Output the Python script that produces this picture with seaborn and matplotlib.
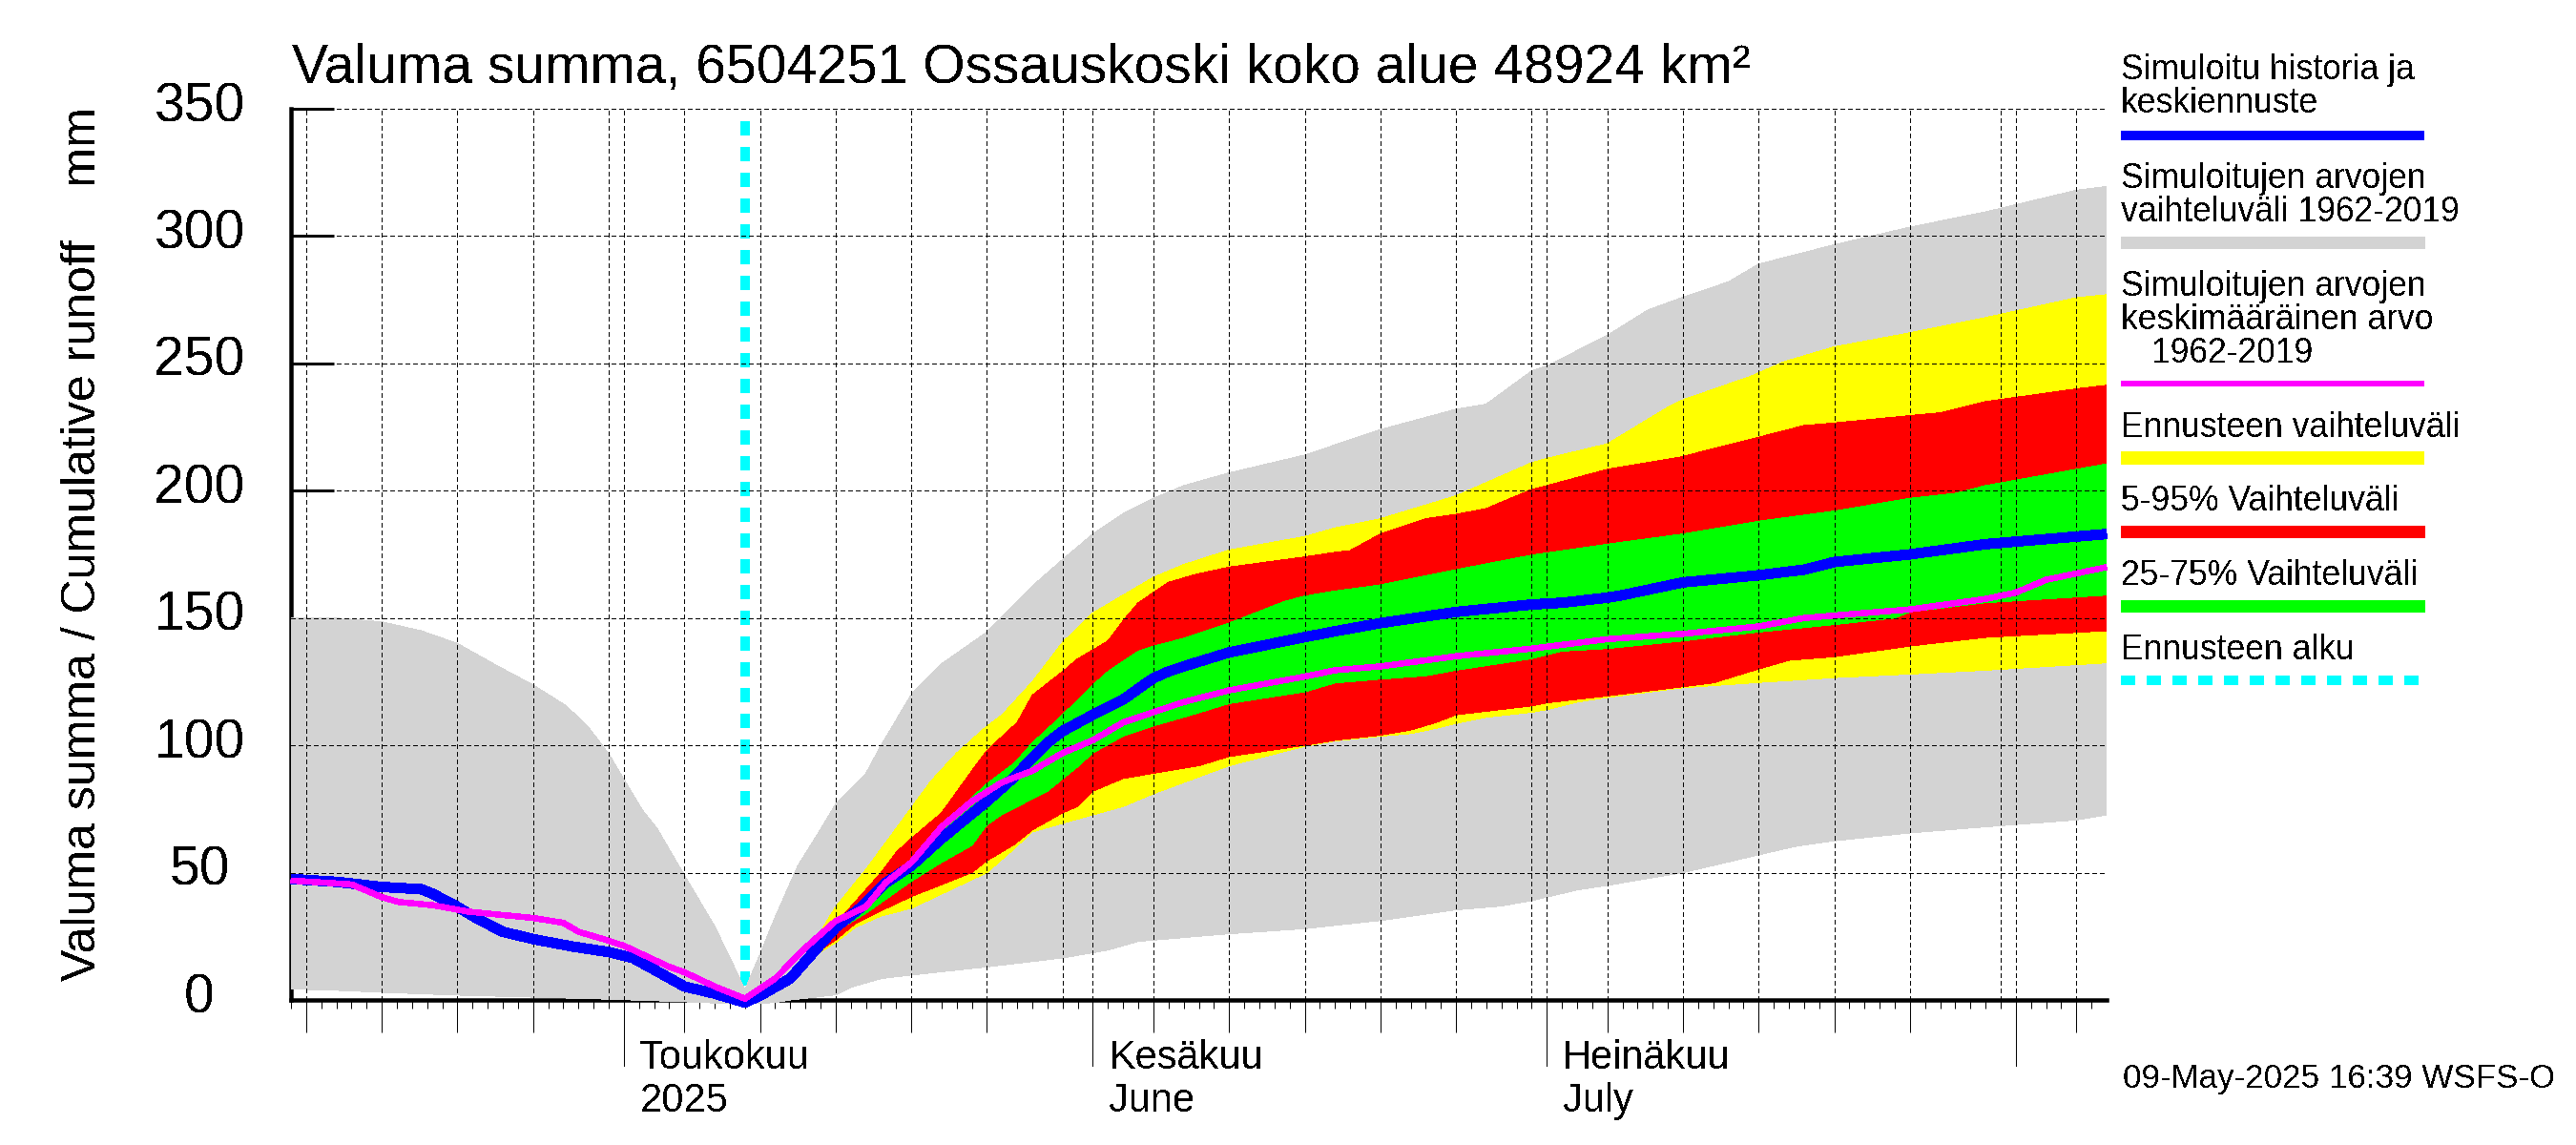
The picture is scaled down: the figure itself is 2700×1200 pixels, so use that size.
import numpy as np
import pandas as pd
import matplotlib
matplotlib.use("Agg")
import matplotlib.pyplot as plt
from matplotlib.lines import Line2D
from matplotlib.transforms import ScaledTranslation, blended_transform_factory
import seaborn as sns

# x values are days counted from 1 May 2025
grey_top_days = [-22, -19, -16, -13.4, -11, -8.6, -6, -3.8, -2.3, -1, 0, 1.2, 2.2, 4, 6, 7.3, 8, 9, 10, 11.5, 13, 14,
                 16, 17, 19, 20, 21, 24, 27, 29, 31, 33, 35, 37, 40, 45, 47, 50, 55, 57, 60, 61, 65, 67.7, 70, 73, 75,
                 80, 85, 90, 96, 98]
grey_top = [150, 150, 148.5, 145, 140, 132, 123.7, 115.5, 106.8, 96.7, 86.7, 74.8, 67.3, 49, 29, 13, 4, 18, 32.6,
            52.7, 67, 77, 89, 100, 120, 126, 132, 144.5, 162.6, 173, 183, 191, 197, 202, 207, 214, 218, 224, 232, 234,
            247, 249, 261, 271, 276, 282, 289, 296.6, 303.5, 309.5, 318, 319.5]
grey_low_days = [-22, -19, -16, -11, -6, -1, 4, 8, 10, 11, 12.5, 14, 15, 17, 19, 24, 29, 32, 34, 40, 45, 47, 50, 55, 58,
                 60, 61, 63, 65, 70, 75, 77.5, 80, 85, 90, 96, 98]
grey_low = [4.3, 3.8, 3, 1.9, 1.1, 0.3, -0.7, -1.7, -1, 0, 1, 2, 5, 8.4, 9.8, 13, 16.5, 19.6, 23, 26, 28, 29.3, 31.2,
            35.4, 36.9, 39, 40.4, 43.2, 45, 50, 57, 60.4, 62.5, 65.6, 68, 70.7, 72.7]

yellow_top_days = [8, 11, 12.7, 14, 16, 18, 19, 20.3, 22, 24, 25, 27, 29, 31, 33, 35, 37, 40, 45, 47, 50, 55, 60, 61,
                   65, 66, 69, 70, 74.5, 76.7, 80, 85, 90, 96, 98]
yellow_top = [0, 8, 24, 36.6, 51.3, 67.4, 75.5, 86, 97, 107.6, 112, 125, 140.5, 152, 159, 166, 171, 176.7, 182, 185.4,
              189, 198, 211, 212.7, 218.4, 222, 232.8, 235.7, 245, 250.7, 256.5, 262, 268, 275.8, 277]
yellow_low_days = [8, 11, 12.5, 14, 15.3, 17, 19, 24, 25.8, 27, 29, 33, 35, 40, 45, 47, 50, 52, 53.7, 55, 57, 60, 61,
                   63, 65, 70, 75, 80, 85, 90, 98]
yellow_low = [0, 8, 17, 22.5, 28.5, 33, 36, 50, 59.4, 66, 69.4, 76, 81, 92, 99.6, 101.7, 103.6, 104.6, 106.7, 108.6,
              111, 113, 114, 117, 118.8, 122.6, 124.7, 126.6, 128, 129.5, 132.4]

red_top_days = [8, 11, 12.5, 13.6, 14, 17, 18, 19, 21, 23, 24, 26, 27, 29, 30, 32, 33, 34, 36, 37.7, 40, 45, 47, 48, 50,
                53, 55, 57, 60, 61, 65, 70, 71, 75, 78, 80, 85, 87, 90, 96, 98]
red_top = [0, 8, 19, 27, 30, 50, 58, 63.4, 73.5, 90, 98, 109, 119.7, 129, 134, 141, 149, 156, 164, 167, 170, 174, 175.8,
           176.5, 183, 189, 190.7, 193, 200.5, 202, 208.4, 213.4, 215, 221, 225.6, 226.6, 229.5, 230.6, 235, 240, 241.4]
red_low_days = [8, 11, 12.5, 14, 15.3, 17, 19, 23, 24, 25.8, 27, 29, 30, 31, 33, 35, 38, 40, 45, 47, 50, 52, 53.7, 55,
                60, 61, 65, 70, 72, 75, 77, 80, 85, 90, 98]
red_low = [0, 8, 17.5, 23.5, 30, 35, 40.6, 50, 54.7, 61, 66.8, 73.5, 76, 82, 87, 89, 92, 95.6, 100, 102, 104, 106, 109,
           112, 115.5, 116.7, 119.4, 123, 124.5, 130, 133.4, 134.8, 139, 142.4, 145]

green_top_days = [8, 11, 12.5, 14, 16, 19, 21, 23, 24, 25.8, 27, 29, 31, 32, 34, 35, 37, 40, 43.7, 45, 47, 50, 55, 60,
                  65, 70, 75, 80, 85, 88, 90, 96, 98]
green_top = [0, 8, 18, 29, 38, 54, 67.4, 79.5, 85, 93, 101, 112, 123.7, 129, 137, 139, 142, 148, 156.6, 158.6, 160.6,
             163, 169, 174.7, 179, 183, 188, 192, 197, 199, 202, 208.4, 210.5]
green_low_days = [8, 11, 12.5, 14, 16, 19, 21, 23, 24, 25, 28, 30, 31, 33, 35, 37, 40, 45, 47, 50, 53, 55, 60, 62, 65,
                  70, 75, 80, 84, 85, 90, 98]
green_low = [0, 8, 18, 27, 34, 46.6, 54, 60.7, 68.8, 72.8, 82, 91.6, 97, 103.6, 107.6, 111, 116.4, 121, 124.5, 126,
             127.3, 129.5, 134, 137, 138, 141, 144.5, 147.4, 150, 152.4, 156, 159]

blue_days = [-22, -19, -16, -13.4, -12.6, -11, -9.6, -8, -6, -3.4, -1, 0.6, 4, 6, 8, 9, 11, 12.5, 14, 15.6, 17.3, 19,
             21, 24, 25.8, 27, 28, 29, 31, 33, 35, 36, 37, 40, 45, 47, 50, 55, 60, 62, 65, 66, 70, 75, 78, 80, 85, 90,
             96, 98]
blue_vals = [47.5, 46.4, 44.4, 43.5, 41.6, 36.6, 31.6, 26.8, 23.9, 21, 18.8, 16.5, 5.3, 2.5, -1, 1.7, 8.4, 18.5, 28.5,
             36, 46, 52.7, 63.4, 78, 87.5, 95, 101, 105.6, 112, 118, 126.4, 129, 131, 136.5, 142.5, 144.8, 148, 152.4,
             155.3, 156, 158, 159, 164, 166.8, 169, 172, 175, 179, 182, 183]
magenta_days = [-22, -18, -16, -14.9, -12.6, -10.3, -6, -4, -3, -1.3, 0, 3, 4, 6, 8, 10, 12, 14, 16, 17.3, 19, 21, 23,
                25, 27, 29, 31, 33, 35, 37, 40, 45, 47, 50, 55, 60, 65, 70, 75, 78, 80, 85, 90, 92, 94, 98]
magenta_vals = [46.9, 45.4, 40.4, 38.5, 37.2, 34.7, 32.2, 30.3, 26.8, 23.8, 21.3, 13, 10.9, 5.3, 0.5, 8.4, 20.5, 31,
                36.6, 46, 54, 68, 78, 85.5, 90, 97, 102, 109, 113, 117, 121.6, 127, 129.5, 131, 135, 138, 141.7, 143.8,
                146.7, 150, 151, 153.4, 157.5, 160, 165, 170]

forecast_start = 8
y_ticks = [0, 50, 100, 150, 200, 250, 300, 350]
month_starts = [0, 31, 61, 92]
five_day_ticks = [-21, -16, -11, -6, 4, 9, 14, 19, 24, 35, 40, 45, 50, 55, 65, 70, 75, 80, 85, 96]
thirty_days = [-1, 29, 60, 91]
month_labels = ["Toukokuu\n2025", "Kesäkuu\nJune", "Heinäkuu\nJuly"]

sns.set_theme(style="white")
plt.rcParams["font.family"] = ["Liberation Sans", "DejaVu Sans"]
plt.rcParams["text.antialiased"] = False

W, H = 2700, 1200
DPI = 100
PX = 72 / DPI


def fx(x):
    return x / W


def fy(y):
    return 1 - y / H


fig = plt.figure(figsize=(W / DPI, H / DPI), dpi=DPI, facecolor="white")
ax = fig.add_axes([fx(305), fy(1048), fx(2208) - fx(305), fy(114) - fy(1048)])
ax.set_facecolor("white")
ax.set_xlim(-22, 98)
ax.set_ylim(0, 350)
ax.set_axisbelow(True)

# start of forecast sits under the grey band
ax.plot([forecast_start, forecast_start], [345, 0], color="#00FFFF", lw=10 * PX, linestyle=(0, (1.5, 1.3)),
        dash_capstyle="butt", zorder=1, antialiased=False)


def band(days_top, top, days_low, low, color, z):
    xs = list(days_top) + list(days_low)[::-1]
    ys = list(top) + list(low)[::-1]
    ax.fill(xs, ys, color=color, lw=0, zorder=z, clip_on=False, antialiased=False)


band(grey_top_days, grey_top, grey_low_days, grey_low, "#D3D3D3", 1.2)
band(yellow_top_days, yellow_top, yellow_low_days, yellow_low, "#FFFF00", 1.3)
band(red_top_days, red_top, red_low_days, red_low, "#FF0000", 1.4)
band(green_top_days, green_top, green_low_days, green_low, "#00FF00", 1.5)

# dashed grid goes over the bands
grid_dash = (0, (5, 3))
for y in y_ticks[1:]:
    ax.axhline(y, color="black", lw=PX, linestyle=grid_dash, zorder=1.7, antialiased=False)
for d in sorted(month_starts + five_day_ticks + thirty_days + [98]):
    ax.axvline(d, color="black", lw=PX, linestyle=grid_dash, zorder=1.7, antialiased=False)

blue_df = pd.DataFrame({"day": blue_days, "value": blue_vals})
magenta_df = pd.DataFrame({"day": magenta_days, "value": magenta_vals})
sns.lineplot(data=blue_df, x="day", y="value", ax=ax, color="#0000FF", lw=10 * PX, estimator=None, sort=False,
             zorder=3, clip_on=False, antialiased=False, solid_capstyle="butt")
sns.lineplot(data=magenta_df, x="day", y="value", ax=ax, color="#FF00FF", lw=5.5 * PX, estimator=None, sort=False,
             zorder=3.1, clip_on=False, antialiased=False, solid_capstyle="butt")
ax.set_xlabel("")
ax.set_ylabel("")

for side in ["top", "right"]:
    ax.spines[side].set_visible(False)
ax.spines["left"].set_linewidth(4.5 * PX)
ax.spines["bottom"].set_linewidth(4.5 * PX)
ax.spines["left"].set_color("black")
ax.spines["bottom"].set_color("black")
ax.spines["left"].set_zorder(0.5)
ax.spines["bottom"].set_zorder(0.5)

ax.set_yticks(y_ticks)
ax.set_yticklabels([str(v) for v in y_ticks], fontsize=41, ha="center")
ax.tick_params(axis="y", which="major", direction="in", length=45 * PX, width=3 * PX, pad=96 * PX, color="black",
               left=True, labelcolor="black")
for lab in ax.get_yticklabels():
    lab.set_transform(lab.get_transform() + ScaledTranslation(0, 8 / DPI, fig.dpi_scale_trans))

ax.set_xticks(five_day_ticks)
ax.set_xticklabels([])
ax.set_xticks(np.arange(-22, 98), minor=True)
ax.tick_params(axis="x", which="major", direction="out", length=34 * PX, width=PX, color="black", bottom=True)
ax.tick_params(axis="x", which="minor", direction="out", length=9 * PX, width=PX, color="black", bottom=True)

# month ticks are longer, month names sit to the right of them
trans = blended_transform_factory(ax.transData, fig.transFigure)
for d in month_starts:
    ax.plot([d, d], [fy(1048), fy(1117)], transform=trans, color="black", lw=PX, clip_on=False, antialiased=False)
for d, lab in zip(month_starts, month_labels):
    top, bottom = lab.split("\n")
    ax.text(d + 1.05, fy(1120), top, transform=trans, fontsize=30, ha="left", va="baseline", color="black")
    ax.text(d + 1.05, fy(1165), bottom, transform=trans, fontsize=30, ha="left", va="baseline", color="black")

fig.text(fx(306), fy(87), "Valuma summa, 6504251 Ossauskoski koko alue 48924 km²", fontsize=41, ha="left",
         va="baseline", color="black")
fig.text(fx(87), fy(570), "Valuma summa / Cumulative runoff    mm", fontsize=36, rotation=90, ha="center",
         va="center", color="black")
fig.text(fx(2225), fy(1140), "09-May-2025 16:39 WSFS-O", fontsize=25.2, ha="left", va="baseline", color="black")

# legend, drawn by hand at figure level
legend_text = [
    ("Simuloitu historia ja", 2223, 83), ("keskiennuste", 2223, 118),
    ("Simuloitujen arvojen", 2223, 197), ("vaihteluväli 1962-2019", 2223, 232),
    ("Simuloitujen arvojen", 2223, 310), ("keskimääräinen arvo", 2223, 345), ("1962-2019", 2255, 380),
    ("Ennusteen vaihteluväli", 2223, 458), ("5-95% Vaihteluväli", 2223, 535),
    ("25-75% Vaihteluväli", 2223, 613), ("Ennusteen alku", 2223, 691),
]
for txt, x, y in legend_text:
    fig.text(fx(x), fy(y), txt, fontsize=25.6, ha="left", va="baseline", color="black")

legend_bars = [("#0000FF", 142, 10), ("#D3D3D3", 254, 13), ("#FF00FF", 402, 5.5), ("#FFFF00", 480, 14),
               ("#FF0000", 557, 13), ("#00FF00", 635, 13)]
for color, y, h in legend_bars:
    fig.add_artist(Line2D([fx(2223), fx(2541)], [fy(y), fy(y)], color=color, lw=h * PX, solid_capstyle="butt",
                          antialiased=False))
fig.add_artist(Line2D([fx(2223), fx(2541)], [fy(713), fy(713)], color="#00FFFF", lw=10 * PX,
                      linestyle=(0, (1.5, 1.3)), dash_capstyle="butt", antialiased=False))

fig.savefig("out.png", dpi=DPI, facecolor="white")
